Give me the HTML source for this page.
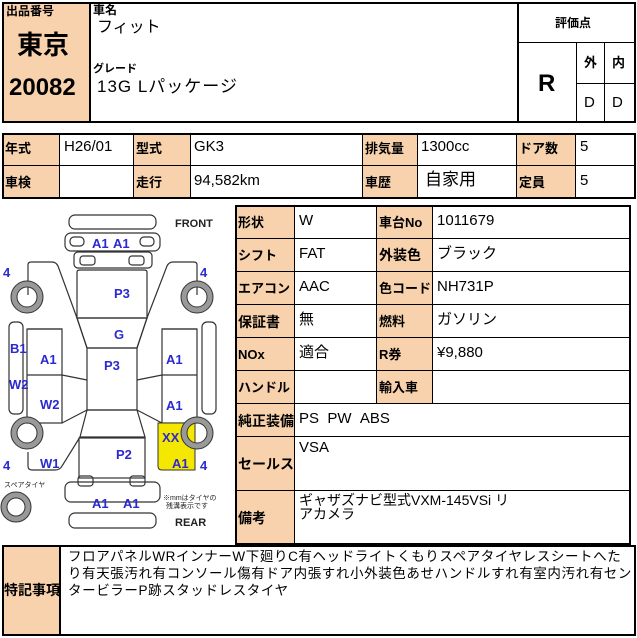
<!DOCTYPE html>
<html><head><meta charset="utf-8"><style>
*{margin:0;padding:0;box-sizing:border-box}
body{width:637px;height:638px;background:#fff;position:relative;overflow:hidden;font-family:"Liberation Sans","Noto Sans CJK JP",sans-serif;color:#000}
.b{position:absolute;border:1px solid #000}
.o{background:#f8d2ac}
.t{position:absolute;white-space:nowrap;line-height:1}
.l{font-size:13px;font-weight:bold}
.v{font-size:15px}
</style></head><body>
<!-- top box -->
<div class="b" style="left:2px;top:2px;width:634px;height:121px;border-width:2px"></div>
<div class="b o" style="left:2px;top:2px;width:89px;height:121px;border-width:2px"></div>
<div class="t l" style="left:6px;top:5px;font-size:12px">出品番号</div>
<div class="t" style="left:17px;top:32px;font-size:26px;font-weight:bold">東京</div>
<div class="t" style="left:9px;top:76px;font-size:24px;font-weight:bold">20082</div>
<div class="t l" style="left:93px;top:4px;font-size:12px">車名</div>
<div class="t" style="left:97px;top:20px;font-size:16px">フィット</div>
<div class="t l" style="left:93px;top:64px;font-size:11px">グレード</div>
<div class="t" style="left:97px;top:78px;font-size:17px;letter-spacing:1px">13G&nbsp;Lパッケージ</div>
<div class="b" style="left:517px;top:2px;width:119px;height:121px;border-width:2px"></div>
<div class="b" style="left:517px;top:42px;width:119px;height:1px;border-width:1px 0 0 0"></div>
<div class="t l" style="left:555px;top:17px;font-size:12px">評価点</div>
<div class="b" style="left:576px;top:42px;width:1px;height:81px;border-width:0 0 0 1px"></div>
<div class="b" style="left:604px;top:42px;width:1px;height:81px;border-width:0 0 0 1px"></div>
<div class="b" style="left:576px;top:83px;width:60px;height:1px;border-width:1px 0 0 0"></div>
<div class="t" style="left:538px;top:72px;font-size:24px;font-weight:bold">R</div>
<div class="t l" style="left:584px;top:56px">外</div>
<div class="t l" style="left:612px;top:56px">内</div>
<div class="t v" style="left:584px;top:95px">D</div>
<div class="t v" style="left:612px;top:95px">D</div>

<!-- second table -->
<div class="b" style="left:2px;top:133px;width:634px;height:66px;border-width:2px"></div>
<div class="b o" style="left:2px;top:133px;width:58px;height:66px"></div>
<div class="b o" style="left:133px;top:133px;width:58px;height:66px"></div>
<div class="b o" style="left:362px;top:133px;width:56px;height:66px"></div>
<div class="b o" style="left:516px;top:133px;width:60px;height:66px"></div>
<div class="b" style="left:2px;top:165px;width:634px;height:1px;border-width:1px 0 0 0"></div>
<div class="b" style="left:2px;top:133px;width:634px;height:66px;border-width:2px;background:transparent"></div>
<div class="t l" style="left:5px;top:142px">年式</div>
<div class="t v" style="left:64px;top:139px">H26/01</div>
<div class="t l" style="left:136px;top:142px">型式</div>
<div class="t v" style="left:194px;top:139px">GK3</div>
<div class="t l" style="left:365px;top:142px">排気量</div>
<div class="t v" style="left:421px;top:139px">1300cc</div>
<div class="t l" style="left:519px;top:142px">ドア数</div>
<div class="t v" style="left:580px;top:139px">5</div>
<div class="t l" style="left:5px;top:176px">車検</div>
<div class="t l" style="left:136px;top:176px">走行</div>
<div class="t v" style="left:194px;top:173px">94,582km</div>
<div class="t l" style="left:365px;top:176px">車歴</div>
<div class="t" style="left:425px;top:171px;font-size:17px">自家用</div>
<div class="t l" style="left:519px;top:176px">定員</div>
<div class="t v" style="left:580px;top:173px">5</div>

<!-- right table -->
<div class="b" style="left:235px;top:205px;width:396px;height:340px;border-width:2px"></div>
<div class="b o" style="left:235px;top:205px;width:60px;height:340px"></div>
<div class="b o" style="left:376px;top:205px;width:57px;height:199px"></div>
<div class="b" style="left:235px;top:238px;width:396px;height:1px;border-width:1px 0 0 0"></div>
<div class="b" style="left:235px;top:271px;width:396px;height:1px;border-width:1px 0 0 0"></div>
<div class="b" style="left:235px;top:304px;width:396px;height:1px;border-width:1px 0 0 0"></div>
<div class="b" style="left:235px;top:337px;width:396px;height:1px;border-width:1px 0 0 0"></div>
<div class="b" style="left:235px;top:370px;width:396px;height:1px;border-width:1px 0 0 0"></div>
<div class="b" style="left:235px;top:403px;width:396px;height:1px;border-width:1px 0 0 0"></div>
<div class="b" style="left:235px;top:436px;width:396px;height:1px;border-width:1px 0 0 0"></div>
<div class="b" style="left:235px;top:490px;width:396px;height:1px;border-width:1px 0 0 0"></div>
<div class="b" style="left:235px;top:205px;width:396px;height:340px;border-width:2px;background:transparent"></div>
<div class="t l" style="left:238px;top:216px">形状</div>
<div class="t v" style="left:299px;top:213px">W</div>
<div class="t l" style="left:379px;top:216px">車台No</div>
<div class="t v" style="left:437px;top:213px">1011679</div>
<div class="t l" style="left:238px;top:249px">シフト</div>
<div class="t v" style="left:299px;top:246px">FAT</div>
<div class="t l" style="left:379px;top:248px;font-size:14px">外装色</div>
<div class="t v" style="left:437px;top:246px">ブラック</div>
<div class="t l" style="left:238px;top:282px">エアコン</div>
<div class="t v" style="left:299px;top:279px">AAC</div>
<div class="t l" style="left:379px;top:282px">色コード</div>
<div class="t v" style="left:437px;top:279px">NH731P</div>
<div class="t l" style="left:238px;top:315px;font-size:14px">保証書</div>
<div class="t v" style="left:299px;top:312px">無</div>
<div class="t l" style="left:379px;top:315px">燃料</div>
<div class="t v" style="left:437px;top:312px">ガソリン</div>
<div class="t l" style="left:238px;top:348px">NOx</div>
<div class="t v" style="left:299px;top:345px">適合</div>
<div class="t l" style="left:379px;top:348px">R券</div>
<div class="t v" style="left:437px;top:345px">¥9,880</div>
<div class="t l" style="left:238px;top:381px">ハンドル</div>
<div class="t l" style="left:379px;top:381px">輸入車</div>
<div class="t l" style="left:238px;top:414px;font-size:14px">純正装備</div>
<div class="t v" style="left:299px;top:411px">PS&nbsp;&nbsp;PW&nbsp;&nbsp;ABS</div>
<div class="t l" style="left:238px;top:457px;font-size:14px">セールス</div>
<div class="t v" style="left:299px;top:440px">VSA</div>
<div class="t l" style="left:238px;top:511px;font-size:14px">備考</div>
<div class="t" style="left:299px;top:493px;font-size:14px;line-height:14px;white-space:normal;width:300px">ギャザズナビ型式VXM-145VSi リ<br>アカメラ</div>

<!-- bottom -->
<div class="b" style="left:2px;top:545px;width:634px;height:91px;border-width:2px"></div>
<div class="b o" style="left:2px;top:545px;width:59px;height:91px;border-width:2px"></div>
<div class="t l" style="left:4px;top:583px;font-size:14px">特記事項</div>
<div class="t" style="left:68px;top:548px;font-size:13.5px;line-height:17px;letter-spacing:0.6px">フロアパネルWRインナーW下廻りC有ヘッドライトくもりスペアタイヤレスシートへた<br>り有天張汚れ有コンソール傷有ドア内張すれ小外装色あせハンドルすれ有室内汚れ有セン<br>タービラーP跡スタッドレスタイヤ</div>

<!-- diagram -->
<svg style="position:absolute;left:0;top:200px" width="233" height="340" viewBox="0 0 233 340">
<g fill="none" stroke="#333" stroke-width="1.2">
<rect x="69" y="15" width="87" height="14" rx="6"/>
<rect x="65" y="33" width="95" height="18" rx="6"/>
<rect x="70" y="37" width="14" height="9" rx="4"/><rect x="140" y="37" width="14" height="9" rx="4"/>
<rect x="74" y="52" width="78" height="16" rx="4"/>
<rect x="80" y="56" width="15" height="9" rx="3"/><rect x="129" y="56" width="15" height="9" rx="3"/>
<path d="M77 72 Q77 70 80 70 L144 70 Q147 70 147 72 L147 118 L77 118 Z"/>
<path d="M77 118 L147 118 L137 148 L87 148 Z"/>
<rect x="87" y="148" width="50" height="62"/>
<path d="M87 210 L137 210 L145 237 L80 237 Z"/>
<rect x="79" y="238" width="66" height="40"/>
<rect x="65" y="282" width="95" height="20" rx="6"/>
<rect x="78" y="276" width="15" height="10" rx="3"/><rect x="130" y="276" width="15" height="10" rx="3"/>
<rect x="69" y="313" width="87" height="15" rx="6"/>
<rect x="9" y="122" width="14" height="92" rx="5"/>
<rect x="202" y="122" width="14" height="92" rx="5"/>
<rect x="27" y="129" width="35" height="94"/><line x1="27" y1="175" x2="62" y2="175"/>
<rect x="162" y="129" width="35" height="94"/><line x1="162" y1="175" x2="197" y2="175"/>
<path d="M28 95 L28 65 Q28 62 31 62 L52 62 Q56 62 58 66 L77 118 L87 148"/>
<path d="M197 95 L197 65 Q197 62 194 62 L173 62 Q169 62 167 66 L147 118 L137 148"/>
<path d="M28 252 L28 266 Q28 270 32 270 L55 270 Q60 270 62 266 L80 237"/>
<path d="M62 223 L87 210 M162 223 L137 210 M62 175 L87 180 M162 175 L137 180"/>
<path d="M62 129 L28 129 M162 129 L197 129"/>
</g>
<path d="M158 223 L195 223 L195 270 L162 270 Q158 270 158 266 Z" fill="#f5e800" stroke="#333"/>
<g fill="none" stroke="#999" stroke-width="6">
<circle cx="27" cy="97" r="13"/><circle cx="197" cy="97" r="13"/>
<circle cx="27" cy="233" r="13"/><circle cx="197" cy="233" r="13"/>
<circle cx="16" cy="307" r="12"/>
</g>
<g fill="none" stroke="#333" stroke-width="1">
<circle cx="27" cy="97" r="16"/><circle cx="27" cy="97" r="10"/>
<circle cx="197" cy="97" r="16"/><circle cx="197" cy="97" r="10"/>
<circle cx="27" cy="233" r="16"/><circle cx="27" cy="233" r="10"/>
<circle cx="197" cy="233" r="16"/><circle cx="197" cy="233" r="10"/>
<circle cx="16" cy="307" r="15"/><circle cx="16" cy="307" r="9"/>
</g>
<g font-family="Liberation Sans,sans-serif" font-weight="bold" font-size="13" fill="#2a2ad0">
<text x="92" y="48">A1</text><text x="113" y="48">A1</text>
<text x="114" y="98">P3</text><text x="114" y="139">G</text>
<text x="104" y="170">P3</text><text x="116" y="259">P2</text>
<text x="40" y="164">A1</text><text x="40" y="209">W2</text>
<text x="10" y="153">B1</text><text x="9" y="189">W2</text>
<text x="166" y="164">A1</text><text x="166" y="210">A1</text>
<text x="162" y="242">XX</text><text x="172" y="268">A1</text>
<text x="40" y="268">W1</text>
<text x="92" y="308">A1</text><text x="123" y="308">A1</text>
<text x="3" y="77">4</text><text x="200" y="77">4</text>
<text x="3" y="270">4</text><text x="200" y="270">4</text>
</g>
<g font-family="Liberation Sans,sans-serif" font-weight="bold" font-size="11" fill="#222">
<text x="175" y="27">FRONT</text><text x="175" y="326">REAR</text>
</g>
<g font-family="Liberation Sans,Noto Sans CJK JP,sans-serif" font-size="7" fill="#222">
<text x="4" y="287">スペアタイヤ</text>
<text x="163" y="300">※mmはタイヤの</text><text x="166" y="308">残溝表示です</text>
</g>
</svg>
</body></html>
